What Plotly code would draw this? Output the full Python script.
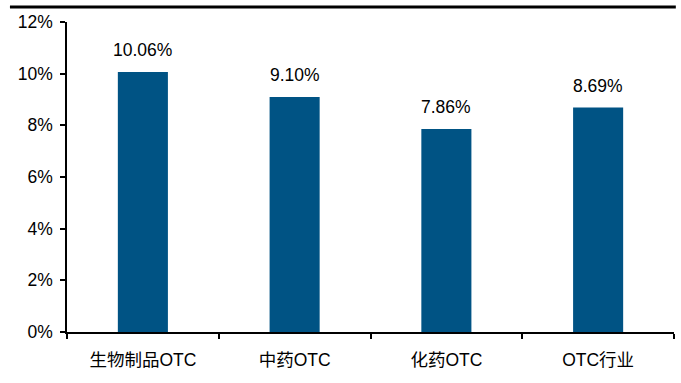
import plotly.graph_objects as go

categories = ["生物制品OTC", "中药OTC", "化药OTC", "OTC行业"]
values = [10.06, 9.10, 7.86, 8.69]
value_labels = ["10.06%", "9.10%", "7.86%", "8.69%"]
y_ticks = [0, 2, 4, 6, 8, 10, 12]
y_tick_labels = ["0%", "2%", "4%", "6%", "8%", "10%", "12%"]

FONT = "Liberation Sans, Arial, Noto Sans CJK SC, sans-serif"
BAR = "#005384"
FS = 17.5

fig = go.Figure()
fig.add_trace(go.Bar(x=categories, y=values, marker=dict(color=BAR, line=dict(width=0)),
                     width=0.33, hoverinfo="skip"))

for c, v, t in zip(categories, values, value_labels):
    fig.add_annotation(x=c, y=v, text=t, showarrow=False, yanchor="bottom",
                       yshift=10, font=dict(family=FONT, size=FS, color="#000000"))

fig.add_shape(type="line", xref="paper", yref="paper", x0=-0.094, x1=1.003,
              y0=1.048, y1=1.048, line=dict(color="#000000", width=3))

fig.update_layout(
    width=681, height=383,
    margin=dict(l=67, r=7, t=22, b=51),
    paper_bgcolor="white", plot_bgcolor="white",
    showlegend=False,
    font=dict(family=FONT, size=FS, color="#000000"),
    bargap=0.67,
)
fig.update_xaxes(showline=True, linecolor="#000000", linewidth=1.5,
                 ticks="outside", tickson="boundaries", ticklen=5, tickcolor="#000000",
                 tickwidth=1.5, showgrid=False, tickfont=dict(family=FONT, size=FS),
                 ticklabelstandoff=11, range=[-0.5, 3.5])
fig.update_yaxes(range=[0, 12], tickvals=y_ticks, ticktext=y_tick_labels,
                 showline=True, linecolor="#000000", linewidth=1.5,
                 ticks="outside", ticklen=5, tickcolor="#000000", tickwidth=1.5,
                 showgrid=False, zeroline=False, tickfont=dict(family=FONT, size=FS),
                 ticklabelstandoff=4)

fig.write_html("out.html")
